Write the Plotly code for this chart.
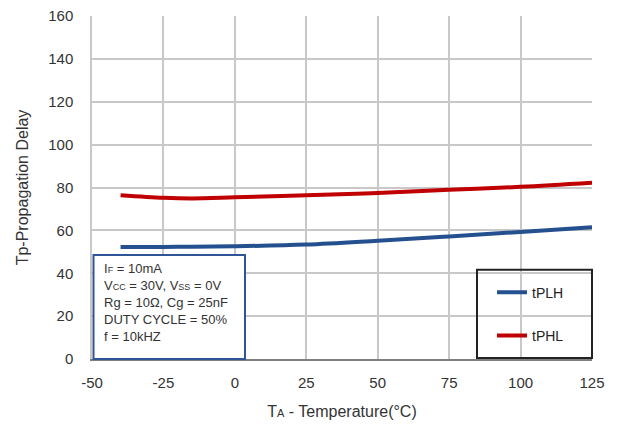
import plotly.graph_objects as go

temps = [-40, -25, -15, 0, 25, 50, 75, 100, 125]
tplh = [52.3, 52.3, 52.4, 52.6, 53.4, 55.2, 57.2, 59.3, 61.5]
tphl = [76.4, 75.2, 74.9, 75.4, 76.4, 77.4, 78.9, 80.3, 82.2]
x_ticks = [-50, -25, 0, 25, 50, 75, 100, 125]
x_labels = ["-50", "-25", "0", "25", "50", "75", "100", "125"]
y_ticks = [0, 20, 40, 60, 80, 100, 120, 140, 160]
sm = "<span style='font-size:9px'>%s</span>"
conditions = ["I" + sm % "F" + " = 10mA",
              "V" + sm % "CC" + " = 30V, V" + sm % "SS" + " = 0V",
              "Rg = 10Ω, Cg = 25nF", "DUTY CYCLE = 50%", "f = 10kHZ"]

fig = go.Figure()
fig.add_trace(go.Scatter(x=temps, y=tplh, mode="lines", name="tPLH",
                         line=dict(color="#24508F", width=4, shape="spline"), legendgroup="a"))
fig.add_trace(go.Scatter(x=temps, y=tphl, mode="lines", name="tPHL",
                         line=dict(color="#C00000", width=4, shape="spline"), legendgroup="b"))

fig.update_layout(
    width=613, height=420,
    margin=dict(l=84, r=29, t=8, b=69, autoexpand=False),
    paper_bgcolor="white", plot_bgcolor="white",
    font=dict(family="Liberation Sans, Arial", size=15, color="#333"),
    showlegend=True,
    legend=dict(x=0.8, y=0.24, xanchor="left", yanchor="top",
                bgcolor="rgba(0,0,0,0)", borderwidth=0,
                tracegroupgap=22, itemwidth=30,
                font=dict(size=14, color="#222")),
    xaxis=dict(range=[-50, 125], tickvals=x_ticks, ticktext=x_labels, showgrid=True,
               gridcolor="#C8C8C8", automargin=False, ticklabeloverflow="allow",
               ticklabelstandoff=9,
               gridwidth=1.5, zeroline=False, showline=True, linecolor="#7F7F7F", linewidth=1.5,
               ticks="", tickfont=dict(size=15),
               title=dict(text="T<span style='font-size:11px'>A</span> - Temperature(°C)",
                          font=dict(size=16), standoff=16)),
    yaxis=dict(range=[0, 160], tickvals=y_ticks, showgrid=True, gridcolor="#C8C8C8",
               gridwidth=1.5, zeroline=False, showline=True, linecolor="#C8C8C8", linewidth=1.5,
               ticks="", tickfont=dict(size=15), automargin=False, ticklabeloverflow="allow",
               ticklabelstandoff=14,
               title=dict(text="Tp-Propagation Delay", font=dict(size=16), standoff=16)),
)

# conditions box
fig.add_shape(type="rect", xref="paper", yref="paper", x0=0.003, x1=0.306, y0=0.0, y1=0.303,
              line=dict(color="#2F5597", width=2), fillcolor="white", layer="above")
fig.add_annotation(xref="paper", yref="paper", x=0.02, y=0.292, xanchor="left", yanchor="top",
                   text="<br>".join(conditions), showarrow=False, align="left",
                   font=dict(family="Liberation Sans Narrow, Liberation Sans", size=13, color="#333"))
# legend box
fig.add_shape(type="rect", xref="paper", yref="paper", x0=0.77, x1=1.0, y0=0.003, y1=0.26,
              line=dict(color="#222", width=2), fillcolor="rgba(0,0,0,0)", layer="above")

fig.write_html("out.html")
